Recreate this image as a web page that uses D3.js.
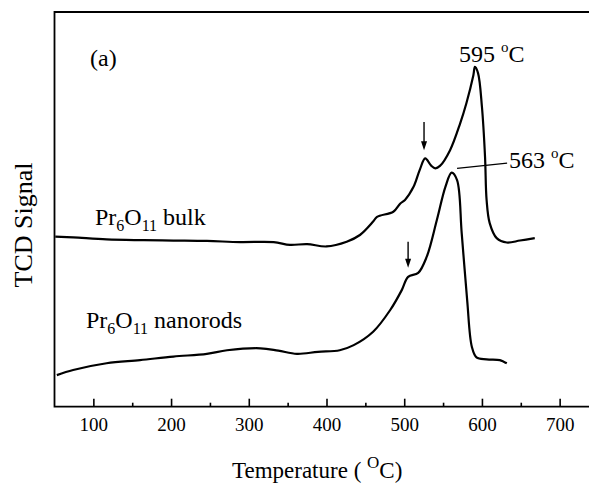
<!DOCTYPE html>
<html>
<head>
<meta charset="utf-8">
<script src="https://cdn.jsdelivr.net/npm/d3@7"></script>
<style>
  body { margin: 0; background: #fff; }
  svg { display: block; font-family: 'Liberation Serif', 'Times New Roman', serif; }
</style>
</head>
<body>
<div id="wrapper"></div>
<script>
// temperature (oC) and TCD signal (a.u.)
const bulkTemp = [51, 74, 117, 160, 203, 246, 289, 332, 353, 375, 400, 426, 443, 460, 465, 486, 495, 501, 512, 520, 527, 535, 540, 546, 559, 572, 580, 589, 591, 595, 600, 604, 606, 610, 619, 632, 649, 668]
const bulkSignal = [43.1, 42.9, 42.4, 42.2, 42.1, 42.0, 41.7, 41.7, 41.0, 41.2, 40.6, 41.8, 43.5, 46.9, 48.1, 49.4, 51.5, 52.4, 55.7, 60.0, 62.9, 61.0, 60.4, 61.0, 65.0, 71.8, 76.9, 84.0, 86.1, 84.5, 76.0, 63.3, 52.4, 46.5, 42.7, 41.6, 42.1, 42.7]

const rodTemp = [53, 74, 117, 160, 203, 246, 272, 315, 338, 362, 389, 417, 435, 460, 482, 497, 505, 518, 529, 542, 553, 561, 568, 574, 581, 587, 593, 606, 623, 628, 632]
const rodSignal = [8.0, 9.3, 11.0, 11.8, 12.7, 13.4, 14.3, 14.8, 14.2, 13.4, 13.9, 14.3, 15.6, 19.0, 24.5, 29.6, 32.9, 33.9, 38.0, 47.3, 55.7, 59.3, 57.4, 43.9, 27.0, 15.2, 12.5, 12.0, 11.8, 11.4, 11.0]

const majorTicks = [100, 200, 300, 400, 500, 600, 700]
const minorTicks = [150, 250, 350, 450, 550, 650, 750]

// arrows: [temperature, signal from, signal to]
const arrows = [[525.5, 72.1, 65.0], [505, 41.8, 35.2]]
// leader line for the 563 label
const leader = [[568, 60.4], [632.4, 61.7]]

const dimensions = {
  width: 589,
  height: 483,
  margin: { top: 12, left: 54.5 },
  boundedWidth: 544,
  boundedHeight: 394.7,
}

const xScale = d3.scaleLinear().domain([50, 750]).range([0, dimensions.boundedWidth])
const yScale = d3.scaleLinear().domain([0, 100]).range([dimensions.boundedHeight, 0])

const svg = d3
  .select('#wrapper')
  .append('svg')
  .attr('width', dimensions.width)
  .attr('height', dimensions.height)

const bounds = svg
  .append('g')
  .attr('transform', `translate(${dimensions.margin.left}, ${dimensions.margin.top})`)

// frame (right side runs off the picture)
bounds
  .append('path')
  .attr('d', `M${dimensions.boundedWidth + 20},0 H0 V${dimensions.boundedHeight} H${dimensions.boundedWidth + 20}`)
  .attr('fill', 'none')
  .attr('stroke', '#000')
  .attr('stroke-width', 1.8)

// x axis, ticks pointing in
const xAxis = bounds
  .append('g')
  .attr('transform', `translate(0, ${dimensions.boundedHeight})`)
  .call(d3.axisBottom(xScale).tickValues(majorTicks).tickSize(-8).tickPadding(11).tickFormat(d3.format('d')))
xAxis.select('.domain').remove()
xAxis.selectAll('line').attr('stroke-width', 1.6)
xAxis.selectAll('text').attr('font-size', 19).attr('font-family', 'Liberation Serif').attr('fill', '#000')

const minorAxis = bounds
  .append('g')
  .attr('transform', `translate(0, ${dimensions.boundedHeight})`)
  .call(d3.axisBottom(xScale).tickValues(minorTicks).tickSize(-4).tickFormat(''))
minorAxis.select('.domain').remove()
minorAxis.selectAll('line').attr('stroke-width', 1.6)

// curves
const lineGen = d3.line().x((d) => xScale(d[0])).y((d) => yScale(d[1])).curve(d3.curveCatmullRom)

const series = [d3.zip(bulkTemp, bulkSignal), d3.zip(rodTemp, rodSignal)]
bounds
  .selectAll('.curve')
  .data(series)
  .enter()
  .append('path')
  .attr('class', 'curve')
  .attr('d', lineGen)
  .attr('fill', 'none')
  .attr('stroke', '#000')
  .attr('stroke-width', 2.2)
  .attr('stroke-linejoin', 'round')

// arrows
arrows.forEach(([t, v0, v1]) => {
  const x = xScale(t)
  const y0 = yScale(v0)
  const y1 = yScale(v1)
  bounds.append('line').attr('x1', x).attr('x2', x).attr('y1', y0).attr('y2', y1 - 8)
    .attr('stroke', '#000').attr('stroke-width', 1.4)
  bounds.append('path').attr('d', `M${x - 3},${y1 - 9} L${x + 3},${y1 - 9} L${x},${y1} Z`).attr('fill', '#000')
})

bounds
  .append('line')
  .attr('x1', xScale(leader[0][0]))
  .attr('y1', yScale(leader[0][1]))
  .attr('x2', xScale(leader[1][0]))
  .attr('y2', yScale(leader[1][1]))
  .attr('stroke', '#000')
  .attr('stroke-width', 1.3)

// labels
function degLabel(x, y, num) {
  const t = svg.append('text').attr('x', x).attr('y', y).attr('font-size', 24)
  t.append('tspan').text(num + ' ')
  t.append('tspan').attr('font-size', 15).attr('dy', -10).text('o')
  t.append('tspan').attr('dy', 10).text('C')
}
degLabel(459, 62, '595')
degLabel(509, 168, '563')

svg.append('text').attr('x', 90).attr('y', 66).attr('font-size', 24).text('(a)')

function formula(x, y, rest) {
  const t = svg.append('text').attr('x', x).attr('y', y).attr('font-size', 24)
  t.append('tspan').text('Pr')
  t.append('tspan').attr('font-size', 16).attr('dy', 6).text('6')
  t.append('tspan').attr('dy', -6).text('O')
  t.append('tspan').attr('font-size', 16).attr('dy', 6).text('11')
  t.append('tspan').attr('dy', -6).text(' ' + rest)
}
formula(95, 225, 'bulk')
formula(86, 328, 'nanorods')

// axis titles
const xTitle = svg.append('text').attr('x', 232).attr('y', 478).attr('font-size', 23)
xTitle.append('tspan').text('Temperature ( ')
xTitle.append('tspan').attr('font-size', 17).attr('dy', -10).text('O')
xTitle.append('tspan').attr('dy', 10).text('C)')

svg
  .append('text')
  .attr('transform', 'translate(32, 225) rotate(-90)')
  .attr('text-anchor', 'middle')
  .attr('font-size', 26)
  .text('TCD Signal')
</script>
</body>
</html>
